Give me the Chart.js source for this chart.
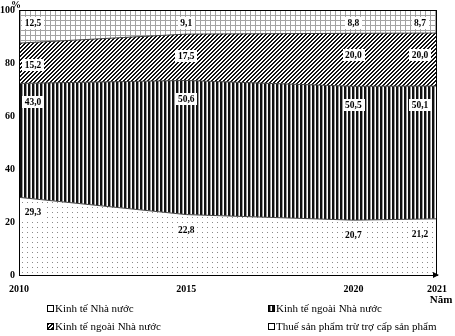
<!DOCTYPE html>
<html><head><meta charset="utf-8">
<script src="https://cdn.jsdelivr.net/npm/chart.js@4/dist/chart.umd.min.js"></script>
<style>html,body{margin:0;padding:0;background:#fff}#wrap{width:455px;height:336px}</style>
</head><body><div id="wrap"><canvas id="c" width="455" height="336"></canvas></div>
<script>
// ---- data ----
const years = [2010, 2015, 2020, 2021];
const seriesNames = ['Kinh tế Nhà nước', 'Kinh tế ngoài Nhà nước', 'Kinh tế ngoài Nhà nước', 'Thuế sản phẩm trừ trợ cấp sản phẩm'];
const stateSector = [29.3, 22.8, 20.7, 21.2];
const nonStateSector = [43.0, 50.6, 50.5, 50.1];
const foreignSector = [15.2, 17.5, 20.0, 20.0];
const productTaxes = [12.5, 9.1, 8.8, 8.7];
const yTicks = [0, 20, 40, 60, 80, 100];
const yearAxisFraction = [0, 0.4, 0.8, 1]; // where each year sits along the x axis in the original
const xTitle = 'Năm';
const yTitle = '%';

// ---- patterns ----
function makePattern(kind) {
  const c = document.createElement('canvas'); const g = c.getContext('2d');
  if (kind === 'dots') { c.width = 5; c.height = 5; g.fillStyle = '#fff'; g.fillRect(0,0,5,5); g.fillStyle = '#8a8a8a'; g.fillRect(2,2,1,1); }
  if (kind === 'vlines') { c.width = 4; c.height = 4; g.fillStyle = '#fff'; g.fillRect(0,0,4,4); g.fillStyle = '#111'; g.fillRect(0,0,2,4); g.fillStyle = '#9a9a9a'; g.fillRect(2,0,1,4); }
  if (kind === 'diag') { c.width = 4; c.height = 4; g.fillStyle = '#fff'; g.fillRect(0,0,4,4); g.fillStyle = '#111'; for (let y = 0; y < 4; y++) { g.fillRect((3 - y) % 4, y, 1, 1); g.fillRect((4 - y) % 4, y, 1, 1); } }
  if (kind === 'grid') { c.width = 5; c.height = 5; g.fillStyle = '#fff'; g.fillRect(0,0,5,5); g.fillStyle = '#a3a3a3'; g.fillRect(0,0,5,1); g.fillRect(0,0,1,5); }
  return document.createElement('canvas').getContext('2d').createPattern(c, 'repeat');
}
const fills = [makePattern('dots'), makePattern('vlines'), makePattern('diag'), makePattern('grid')];

// ---- x scale with the original's uneven year spacing ----
class YearStopScale extends Chart.LinearScale {
  static id = 'yearstops';
  buildTicks() { return years.map(v => ({ value: v })); }
  getPixelForValue(v) {
    let i = 0; while (i < years.length - 2 && v > years[i + 1]) i++;
    const t = (v - years[i]) / (years[i + 1] - years[i]);
    return this.getPixelForDecimal(yearAxisFraction[i] + t * (yearAxisFraction[i + 1] - yearAxisFraction[i]));
  }
  getValueForPixel(p) {
    const d = this.getDecimalForPixel(p);
    let i = 0; while (i < years.length - 2 && d > yearAxisFraction[i + 1]) i++;
    const t = (d - yearAxisFraction[i]) / (yearAxisFraction[i + 1] - yearAxisFraction[i]);
    return years[i] + t * (years[i + 1] - years[i]);
  }
}
Chart.register(YearStopScale);

const seriesValues = [stateSector, nonStateSector, foreignSector, productTaxes];
const datasets = seriesValues.map((vals, i) => ({
  label: seriesNames[i],
  data: years.map((yr, j) => ({ x: yr, y: vals[j] })),
  backgroundColor: fills[i],
  borderColor: '#444',
  borderWidth: 1,
  pointRadius: 0,
  tension: 0,
  fill: i === 0 ? 'origin' : '-1'
}));

const serif = '"Liberation Serif", "Times New Roman", serif';
const labelDrop = [15, 19, 22, 13];

const valueLabels = {
  id: 'valueLabels',
  afterDatasetsDraw(chart) {
    const ctx = chart.ctx;
    ctx.save();
    ctx.font = 'bold 9.5px ' + serif;
    ctx.textAlign = 'center'; ctx.textBaseline = 'middle';
    chart.data.datasets.forEach((ds, i) => {
      const meta = chart.getDatasetMeta(i);
      const n = meta.data.length;
      meta.data.forEach((pt, j) => {
        let cx = pt.x;
        if (j === 0) cx += 14;
        if (j === n - 1) cx -= 17;
        const cy = pt.y + labelDrop[i];
        const txt = ds.data[j].y.toFixed(1).replace('.', ',');
        const w = ctx.measureText(txt).width + 5;
        ctx.fillStyle = '#fff';
        ctx.fillRect(Math.round(cx - w / 2), Math.round(cy - 6), Math.round(w), 12);
        ctx.fillStyle = '#000';
        ctx.fillText(txt, cx, cy + 0.5);
      });
    });
    ctx.restore();
  }
};

const frameAndLegend = {
  id: 'frameAndLegend',
  afterDraw(chart) {
    const ctx = chart.ctx, a = chart.chartArea;
    ctx.save();
    ctx.strokeStyle = '#000'; ctx.lineWidth = 1;
    ctx.strokeRect(a.left + 0.5, a.top + 0.5, a.right - a.left - 1, a.bottom - a.top);
    // arrow at end of x axis
    ctx.fillStyle = '#000';
    ctx.beginPath(); ctx.moveTo(a.right + 2, a.bottom); ctx.lineTo(a.right - 4, a.bottom - 3); ctx.lineTo(a.right - 4, a.bottom + 3); ctx.closePath(); ctx.fill();
    // axis titles
    ctx.font = 'bold 10px ' + serif; ctx.textAlign = 'center'; ctx.textBaseline = 'middle';
    ctx.fillText(yTitle, 16, 5);
    ctx.font = 'bold 11px ' + serif;
    ctx.fillText(xTitle, a.right + 4, 300);
    // legend
    const cols = [47, 268], rows = [309, 327];
    ctx.font = '11px ' + serif; ctx.textAlign = 'left';
    chart.data.datasets.forEach((ds, i) => {
      const x = cols[i % 2], y = rows[Math.floor(i / 2)];
      ctx.fillStyle = (i === 0 || i === 3) ? '#fff' : ds.backgroundColor;
      ctx.fillRect(x, y - 3, 6, 6);
      ctx.strokeStyle = '#000';
      ctx.strokeRect(x + 0.5, y - 3.5, 6, 6);
      ctx.fillStyle = '#000';
      ctx.fillText(ds.label, x + 8, y + 0.5);
    });
    ctx.restore();
  }
};

new Chart(document.getElementById('c'), {
  type: 'line',
  data: { datasets },
  options: {
    responsive: false,
    animation: false,
    devicePixelRatio: 1,
    layout: { padding: { left: 0, top: 10, right: 18, bottom: 0 } },
    plugins: { legend: { display: false }, tooltip: { enabled: false } },
    scales: {
      x: {
        type: 'yearstops', min: years[0], max: years[years.length - 1],
        grid: { display: false, drawTicks: false },
        border: { display: true, color: '#000', width: 1 },
        ticks: { autoSkip: false, maxRotation: 0, padding: 8, color: '#000', font: { family: serif, weight: 'bold', size: 10 }, callback: v => String(v) },
        afterFit: s => { s.height = 61; }
      },
      y: {
        stacked: true, min: yTicks[0], max: yTicks[yTicks.length - 1],
        afterBuildTicks: s => { s.ticks = yTicks.map(v => ({ value: v })); },
        grid: { display: false, drawTicks: false },
        border: { display: true, color: '#000', width: 1 },
        ticks: { padding: 4, color: '#000', font: { family: serif, weight: 'bold', size: 10 } },
        afterFit: s => { s.width = 19; }
      }
    }
  },
  plugins: [valueLabels, frameAndLegend]
});
</script>
</body></html>
